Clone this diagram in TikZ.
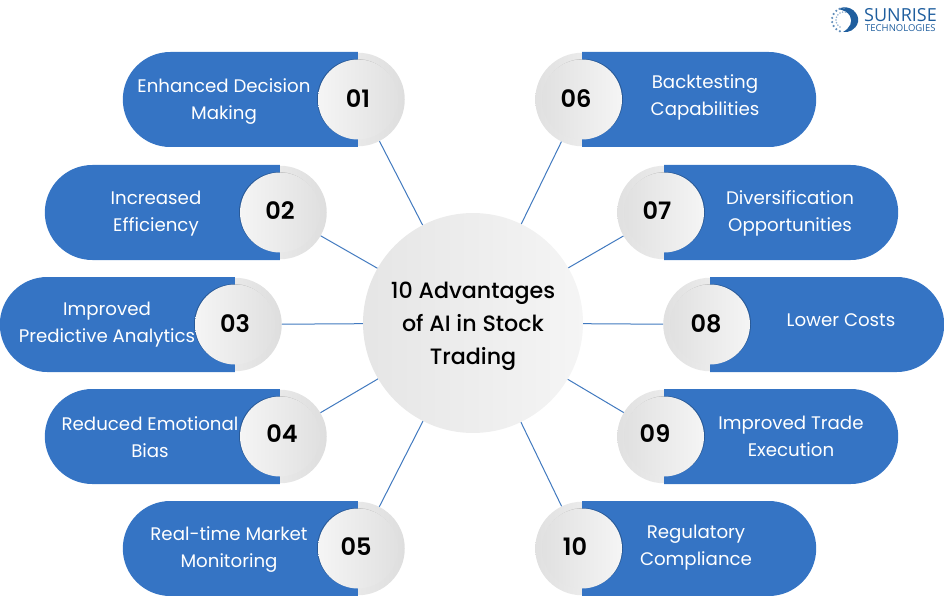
\documentclass[tikz,border=0pt]{standalone}
\usepackage{fontspec}
\setmainfont{Poppins}
\newfontfamily\medfont{Poppins Medium}
\newfontfamily\boldfont{Poppins SemiBold}
\newfontfamily\logofont{Open Sans}
\usepackage{xcolor}
\definecolor{primary}{HTML}{3574C4}
\definecolor{spokeblue}{HTML}{4179BF}
\definecolor{logoblue}{HTML}{1F5E9E}
\usetikzlibrary{shapes.misc, positioning, shadows}

\begin{document}
\begin{tikzpicture}[
    x=1pt, y=-1pt,
    lpill/.style={rounded rectangle, rounded rectangle east arc=none, fill=primary, minimum width=235pt, minimum height=95pt, inner sep=0pt, anchor=east},
    rpill/.style={rounded rectangle, rounded rectangle west arc=none, fill=primary, minimum width=234pt, minimum height=95pt, inner sep=0pt, anchor=west},
    outer/.style={circle, left color=black!5, right color=black!13, minimum size=93.5pt, inner sep=0pt},
    router/.style={circle, left color=black!12, right color=black!4, minimum size=93.5pt, inner sep=0pt},
    linner/.style={circle, left color=black!4, right color=black!12, minimum size=80pt, inner sep=0pt, drop shadow={shadow xshift=-1pt, shadow yshift=0.5pt, opacity=.22, fill=black}},
    rinner/.style={circle, left color=black!12, right color=black!4, minimum size=80pt, inner sep=0pt, drop shadow={shadow xshift=1pt, shadow yshift=0.5pt, opacity=.22, fill=black}},
    pilltext/.style={align=center, text=white, font=\fontsize{18.2}{27}\selectfont},
    numtext/.style={font=\boldfont\fontsize{24}{24}\selectfont, text=black},
    spoke/.style={draw=spokeblue, line width=1pt}
]
\useasboundingbox (0,0) rectangle (944,596);

% Hub
\node[circle, left color=black!10, right color=black!4, minimum size=220pt, inner sep=0pt] (hub) at (473,323) {};
\node[align=center, font=\medfont\fontsize{22.2}{33}\selectfont] (hubtext) at (473,326) {10 Advantages\\of AI in Stock\\Trading};

% Left column
\node[outer] (b01) at (358,99.5) {};
\node[lpill] (p01) at (358,99.5) {};
\node[linner] (c01) at (358,99.5) {};
\node[outer] (b02) at (280,212.5) {};
\node[lpill] (p02) at (280,212.5) {};
\node[linner] (c02) at (280,212.5) {};
\node[outer] (b03) at (235,324.5) {};
\node[lpill] (p03) at (235,324.5) {};
\node[linner] (c03) at (235,324.5) {};
\node[outer] (b04) at (280,436.5) {};
\node[lpill] (p04) at (280,436.5) {};
\node[linner] (c04) at (280,436.5) {};
\node[outer] (b05) at (358,548.5) {};
\node[lpill] (p05) at (358,548.5) {};
\node[linner] (c05) at (358,548.5) {};

% Right column
\node[router] (b06) at (582,99.5) {};
\node[rpill] (p06) at (582,99.5) {};
\node[rinner] (c06) at (582,99.5) {};
\node[router] (b07) at (664,212.5) {};
\node[rpill] (p07) at (664,212.5) {};
\node[rinner] (c07) at (664,212.5) {};
\node[router] (b08) at (710,324.5) {};
\node[rpill] (p08) at (710,324.5) {};
\node[rinner] (c08) at (710,324.5) {};
\node[router] (b09) at (664,436.5) {};
\node[rpill] (p09) at (664,436.5) {};
\node[rinner] (c09) at (664,436.5) {};
\node[router] (b10) at (582,548.5) {};
\node[rpill] (p10) at (582,548.5) {};
\node[rinner] (c10) at (582,548.5) {};

% Labels
\node[pilltext] (t01) at (224,102) {Enhanced Decision\\Making};
\node[pilltext] (t02) at (156,214) {Increased\\Efficiency};
\node[pilltext] (t03) at (107,325) {Improved\\Predictive Analytics};
\node[pilltext] (t04) at (150,437) {Reduced Emotional\\Bias};
\node[pilltext] (t05) at (229,550) {Real-time Market\\Monitoring};
\node[pilltext] (t06) at (705,97.5) {Backtesting\\Capabilities};
\node[pilltext] (t07) at (790,213) {Diversification\\Opportunities};
\node[pilltext] (t08) at (841,320) {Lower Costs};
\node[pilltext] (t09) at (791,436) {Improved Trade\\Execution};
\node[pilltext] (t10) at (696,548) {Regulatory\\Compliance};

% Numbers
\node[numtext] (n01) at (358,99) {01};
\node[numtext] (n02) at (280,211) {02};
\node[numtext] (n03) at (235,324) {03};
\node[numtext] (n04) at (282,434) {04};
\node[numtext] (n05) at (356,547) {05};
\node[numtext] (n06) at (576,99) {06};
\node[numtext] (n07) at (657,211) {07};
\node[numtext] (n08) at (706,324) {08};
\node[numtext] (n09) at (655,434) {09};
\node[numtext] (n10) at (575,547) {10};

% Connectors
\draw[spoke] (hub) -- (b01);
\draw[spoke] (hub) -- (b02);
\draw[spoke] (hub) -- (b03);
\draw[spoke] (hub) -- (b04);
\draw[spoke] (hub) -- (b05);
\draw[spoke] (hub) -- (b06);
\draw[spoke] (hub) -- (b07);
\draw[spoke] (hub) -- (b08);
\draw[spoke] (hub) -- (b09);
\draw[spoke] (hub) -- (b10);

% Logo
\fill[logoblue] (838,9) .. controls (850,3) and (860,14) .. (858,22) .. controls (856,30) and (848,33) .. (843,32) .. controls (850,28) and (853,22) .. (850,16) .. controls (848,12) and (843,10) .. (838,9) -- cycle;
\foreach \a in {110,130,...,270} {
    \fill[logoblue!70] ({844+12*cos(\a)},{20+12*sin(\a)}) circle (1.2);
    \fill[logoblue!50] ({844+8*cos(\a+10)},{20+8*sin(\a+10)}) circle (0.9);
}
\node[anchor=west, inner sep=0pt, text=logoblue, font=\logofont\fontsize{18}{18}\selectfont] (brand) at (864,15) {SUNRISE};
\node[anchor=west, inner sep=0pt, text=logoblue, font=\logofont\fontsize{9.5}{9.5}\selectfont] (brandsub) at (865,28) {TECHNOLOGIES};

\end{tikzpicture}
\end{document}
